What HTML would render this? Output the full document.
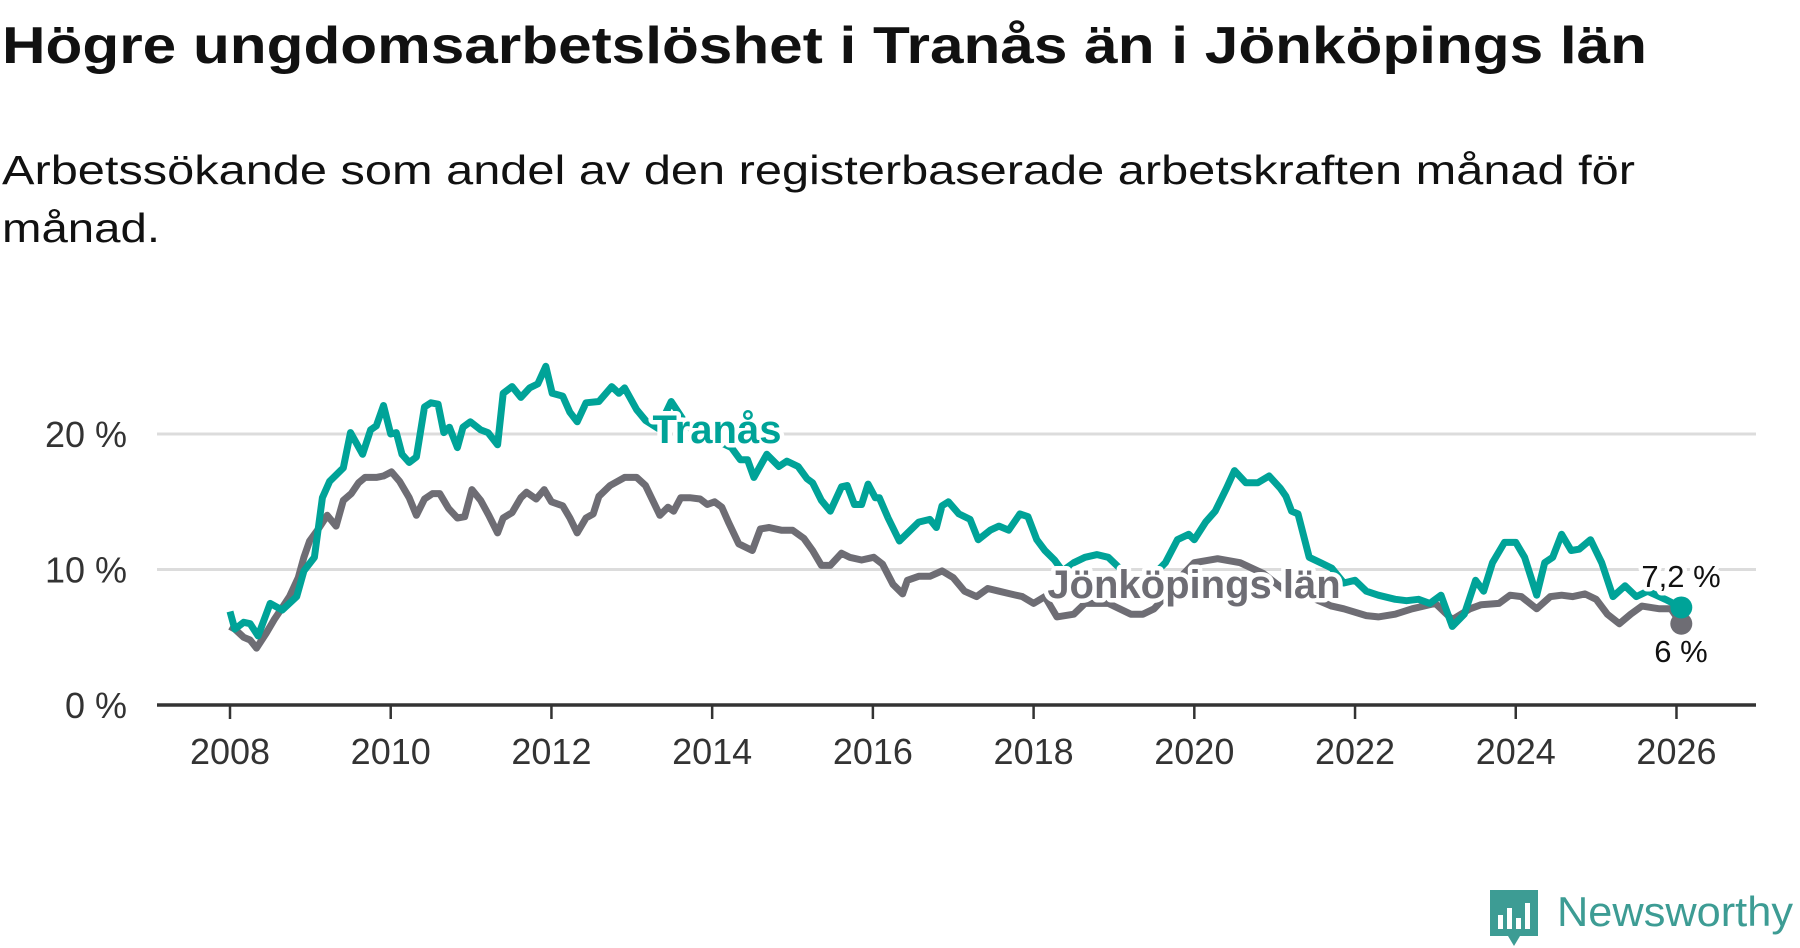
<!DOCTYPE html>
<html><head><meta charset="utf-8"><style>
html,body{margin:0;padding:0;background:#fff;}
svg{display:block;font-family:"Liberation Sans",sans-serif;}
</style></head><body>
<svg width="1800" height="948" viewBox="0 0 1800 948" id="chart">
<text x="2" y="63" font-size="52" font-weight="bold" fill="#111" textLength="1645" lengthAdjust="spacingAndGlyphs">Högre ungdomsarbetslöshet i Tranås än i Jönköpings län</text>
<text x="2" y="184" font-size="41" fill="#111" textLength="1633" lengthAdjust="spacingAndGlyphs">Arbetssökande som andel av den registerbaserade arbetskraften månad för</text>
<text x="2" y="242" font-size="41" fill="#111" textLength="158" lengthAdjust="spacingAndGlyphs">månad.</text>
<g id="grid"></g><g id="axes"></g><g id="series"></g><g id="labels"></g>
<g>
<path d="M1490 890 h48 v46 h-18 l-6 10 l-6 -10 h-18 z" fill="#3d9c94"/>
<rect x="1498" y="915" width="5" height="14" fill="#fff"/><rect x="1507" y="908" width="5" height="21" fill="#fff"/><rect x="1516" y="918" width="5" height="11" fill="#fff"/><rect x="1525" y="903" width="5" height="26" fill="#fff"/>
<text x="1557" y="926" font-size="42" fill="#3d9c94" textLength="236" lengthAdjust="spacingAndGlyphs">Newsworthy</text>
</g>
</svg>
<script>
const yTicks = [0, 10, 20];
const xTicks = [2008, 2010, 2012, 2014, 2016, 2018, 2020, 2022, 2024, 2026];
const tranasDates = [2008.0,2008.06,2008.17,2008.25,2008.35,2008.5,2008.65,2008.83,2008.92,2009.05,2009.15,2009.24,2009.41,2009.5,2009.65,2009.75,2009.82,2009.91,2010.0,2010.07,2010.14,2010.23,2010.32,2010.42,2010.5,2010.59,2010.66,2010.73,2010.83,2010.9,2010.99,2011.12,2011.21,2011.33,2011.4,2011.51,2011.62,2011.73,2011.83,2011.93,2012.01,2012.14,2012.23,2012.32,2012.43,2012.59,2012.75,2012.84,2012.91,2013.06,2013.17,2013.33,2013.49,2013.7,2013.95,2014.24,2014.35,2014.44,2014.52,2014.68,2014.83,2014.93,2015.07,2015.18,2015.25,2015.36,2015.47,2015.61,2015.68,2015.77,2015.86,2015.94,2016.03,2016.08,2016.19,2016.33,2016.57,2016.71,2016.79,2016.86,2016.94,2017.07,2017.21,2017.31,2017.46,2017.57,2017.69,2017.83,2017.93,2018.04,2018.14,2018.26,2018.36,2018.5,2018.64,2018.79,2018.93,2019.07,2019.21,2019.43,2019.64,2019.79,2019.93,2020.0,2020.14,2020.26,2020.4,2020.5,2020.64,2020.79,2020.93,2021.07,2021.14,2021.21,2021.29,2021.43,2021.57,2021.71,2021.86,2022.0,2022.14,2022.29,2022.5,2022.64,2022.79,2022.93,2023.07,2023.21,2023.36,2023.5,2023.6,2023.71,2023.86,2024.0,2024.11,2024.26,2024.36,2024.46,2024.57,2024.69,2024.79,2024.93,2025.07,2025.21,2025.36,2025.5,2025.64,2025.86,2026.06];
const tranasValues = [6.9,5.6,6.1,6.0,5.1,7.5,7.0,8.0,9.9,10.9,15.3,16.5,17.5,20.1,18.5,20.3,20.6,22.1,20.0,20.1,18.5,17.9,18.3,22.0,22.3,22.2,20.1,20.5,19.0,20.5,20.9,20.3,20.1,19.2,23.0,23.5,22.7,23.4,23.7,25.0,23.0,22.8,21.6,20.9,22.3,22.4,23.5,23.0,23.4,21.8,21.0,20.4,22.4,20.5,19.8,19.0,18.1,18.1,16.8,18.5,17.6,18.0,17.6,16.7,16.4,15.1,14.3,16.1,16.2,14.8,14.8,16.3,15.3,15.3,13.8,12.1,13.5,13.7,13.1,14.7,15.0,14.1,13.7,12.2,12.9,13.2,12.9,14.1,13.9,12.2,11.4,10.7,9.9,10.5,10.9,11.1,10.9,10.1,9.2,9.2,10.5,12.2,12.6,12.2,13.5,14.3,16.0,17.3,16.4,16.4,16.9,16.0,15.4,14.3,14.1,10.9,10.5,10.1,9.0,9.2,8.4,8.1,7.8,7.7,7.8,7.5,8.1,5.8,6.7,9.2,8.4,10.5,12.0,12.0,10.9,8.1,10.5,10.9,12.6,11.4,11.5,12.2,10.5,8.0,8.8,8.0,8.4,7.8,7.2];
const lanDates = [2008.0,2008.06,2008.17,2008.25,2008.33,2008.45,2008.55,2008.63,2008.74,2008.85,2008.92,2008.99,2009.1,2009.21,2009.32,2009.41,2009.51,2009.6,2009.68,2009.82,2009.91,2010.01,2010.11,2010.23,2010.32,2010.42,2010.52,2010.61,2010.72,2010.83,2010.92,2011.01,2011.12,2011.22,2011.33,2011.4,2011.51,2011.62,2011.69,2011.81,2011.91,2012.0,2012.14,2012.23,2012.32,2012.43,2012.52,2012.59,2012.73,2012.91,2013.06,2013.17,2013.35,2013.45,2013.52,2013.61,2013.72,2013.85,2013.94,2014.03,2014.12,2014.21,2014.33,2014.5,2014.6,2014.71,2014.86,2015.0,2015.14,2015.25,2015.36,2015.47,2015.61,2015.71,2015.86,2016.01,2016.12,2016.25,2016.37,2016.43,2016.57,2016.71,2016.86,2017.0,2017.14,2017.29,2017.43,2017.57,2017.71,2017.86,2018.0,2018.14,2018.29,2018.5,2018.64,2018.79,2018.93,2019.07,2019.21,2019.36,2019.5,2019.64,2019.79,2020.0,2020.29,2020.57,2020.86,2021.14,2021.43,2021.71,2021.86,2022.14,2022.29,2022.5,2022.71,2023.0,2023.21,2023.43,2023.57,2023.79,2023.93,2024.07,2024.26,2024.43,2024.57,2024.71,2024.86,2025.0,2025.14,2025.29,2025.43,2025.57,2025.79,2025.93,2026.06];
const lanValues = [5.8,5.6,5.0,4.8,4.2,5.3,6.3,7.0,8.0,9.4,10.9,12.1,13.0,14.0,13.2,15.1,15.6,16.4,16.8,16.8,16.9,17.2,16.5,15.3,14.0,15.2,15.6,15.6,14.5,13.8,13.9,15.9,15.1,14.0,12.7,13.8,14.2,15.3,15.7,15.2,15.9,15.0,14.7,13.8,12.7,13.8,14.1,15.4,16.2,16.8,16.8,16.2,14.0,14.6,14.3,15.3,15.3,15.2,14.8,15.0,14.6,13.4,11.9,11.4,13.0,13.1,12.9,12.9,12.3,11.4,10.3,10.3,11.2,10.9,10.7,10.9,10.4,8.9,8.2,9.2,9.5,9.5,9.9,9.4,8.4,8.0,8.6,8.4,8.2,8.0,7.5,8.0,6.5,6.7,7.5,7.5,7.5,7.1,6.7,6.7,7.1,8.0,9.2,10.5,10.8,10.5,9.7,8.4,8.0,7.3,7.1,6.6,6.5,6.7,7.1,7.5,6.3,7.1,7.4,7.5,8.1,8.0,7.1,8.0,8.1,8.0,8.2,7.8,6.7,6.0,6.7,7.3,7.1,7.1,6.0];

const NS = "http://www.w3.org/2000/svg";
const X0 = 230, PXY = 80.36, Y0 = 705, PXV = 13.55;
function xs(t){ return X0 + (t - 2008) * PXY; }
function ys(v){ return Y0 - v * PXV; }
function mk(tag, attrs, parent){ const e=document.createElementNS(NS,tag); for(const k in attrs) e.setAttribute(k,attrs[k]); parent.appendChild(e); return e; }
const grid=document.getElementById('grid'), axes=document.getElementById('axes'), series=document.getElementById('series'), labels=document.getElementById('labels');

yTicks.forEach(v=>{
  if(v>0){
    const l=mk('line',{x1:157,x2:1756,y1:ys(v),y2:ys(v),stroke:'#dcdcdc','stroke-width':3},grid);
    
    
  }
  const t=mk('text',{x:127,y:ys(v)+13,'font-size':36,fill:'#333','text-anchor':'end'},axes);
  t.textContent=v+' %';
  
  
});
const ax=mk('line',{x1:157,x2:1756,y1:Y0,y2:Y0,stroke:'#333','stroke-width':3.5},axes);


xTicks.forEach(yr=>{
  const tk=mk('line',{x1:xs(yr),x2:xs(yr),y1:Y0,y2:Y0+14,stroke:'#333','stroke-width':2.5},axes);
  
  
  const t=mk('text',{x:xs(yr),y:764,'font-size':36,fill:'#333','text-anchor':'middle'},axes);
  t.textContent=yr;
  
  
});
function pathOf(d,v){ return d.map((t,i)=>(i?'L':'M')+xs(t).toFixed(1)+' '+ys(v[i]).toFixed(1)).join(' '); }
const pl=mk('path',{d:pathOf(lanDates,lanValues),fill:'none',stroke:'#6e6d74','stroke-width':7,'stroke-linejoin':'round'},series);


const pt=mk('path',{d:pathOf(tranasDates,tranasValues),fill:'none',stroke:'#00a398','stroke-width':7,'stroke-linejoin':'round'},series);


const nL=lanDates.length-1, nT=tranasDates.length-1;
const dl=mk('circle',{cx:xs(lanDates[nL]),cy:ys(lanValues[nL]),r:11,fill:'#6e6d74'},series);


const dt=mk('circle',{cx:xs(tranasDates[nT]),cy:ys(tranasValues[nT]),r:11,fill:'#00a398'},series);



function lbl(txt,x,y,size,fill,bold,anchor,name){
  const t=mk('text',{x:x,y:y,'font-size':size,fill:fill,'font-weight':bold?'bold':'normal','text-anchor':anchor,stroke:'#fff','stroke-width':9,'paint-order':'stroke','stroke-linejoin':'round'},labels);
  t.textContent=txt;
  
  
}
lbl('Tranås',717,443,40,'#00a398',true,'middle','tranas-label');
lbl('Jönköpings län',1194,598,40,'#6e6d74',true,'middle','jonkopings-lan-label');
lbl(String(tranasValues[nT]).replace('.',',')+' %',1681,587,31,'#111',false,'middle','tranas-end-value');
lbl(String(lanValues[nL]).replace('.',',')+' %',1681,662,31,'#111',false,'middle','jonkopings-lan-end-value');
</script>
</body></html>
